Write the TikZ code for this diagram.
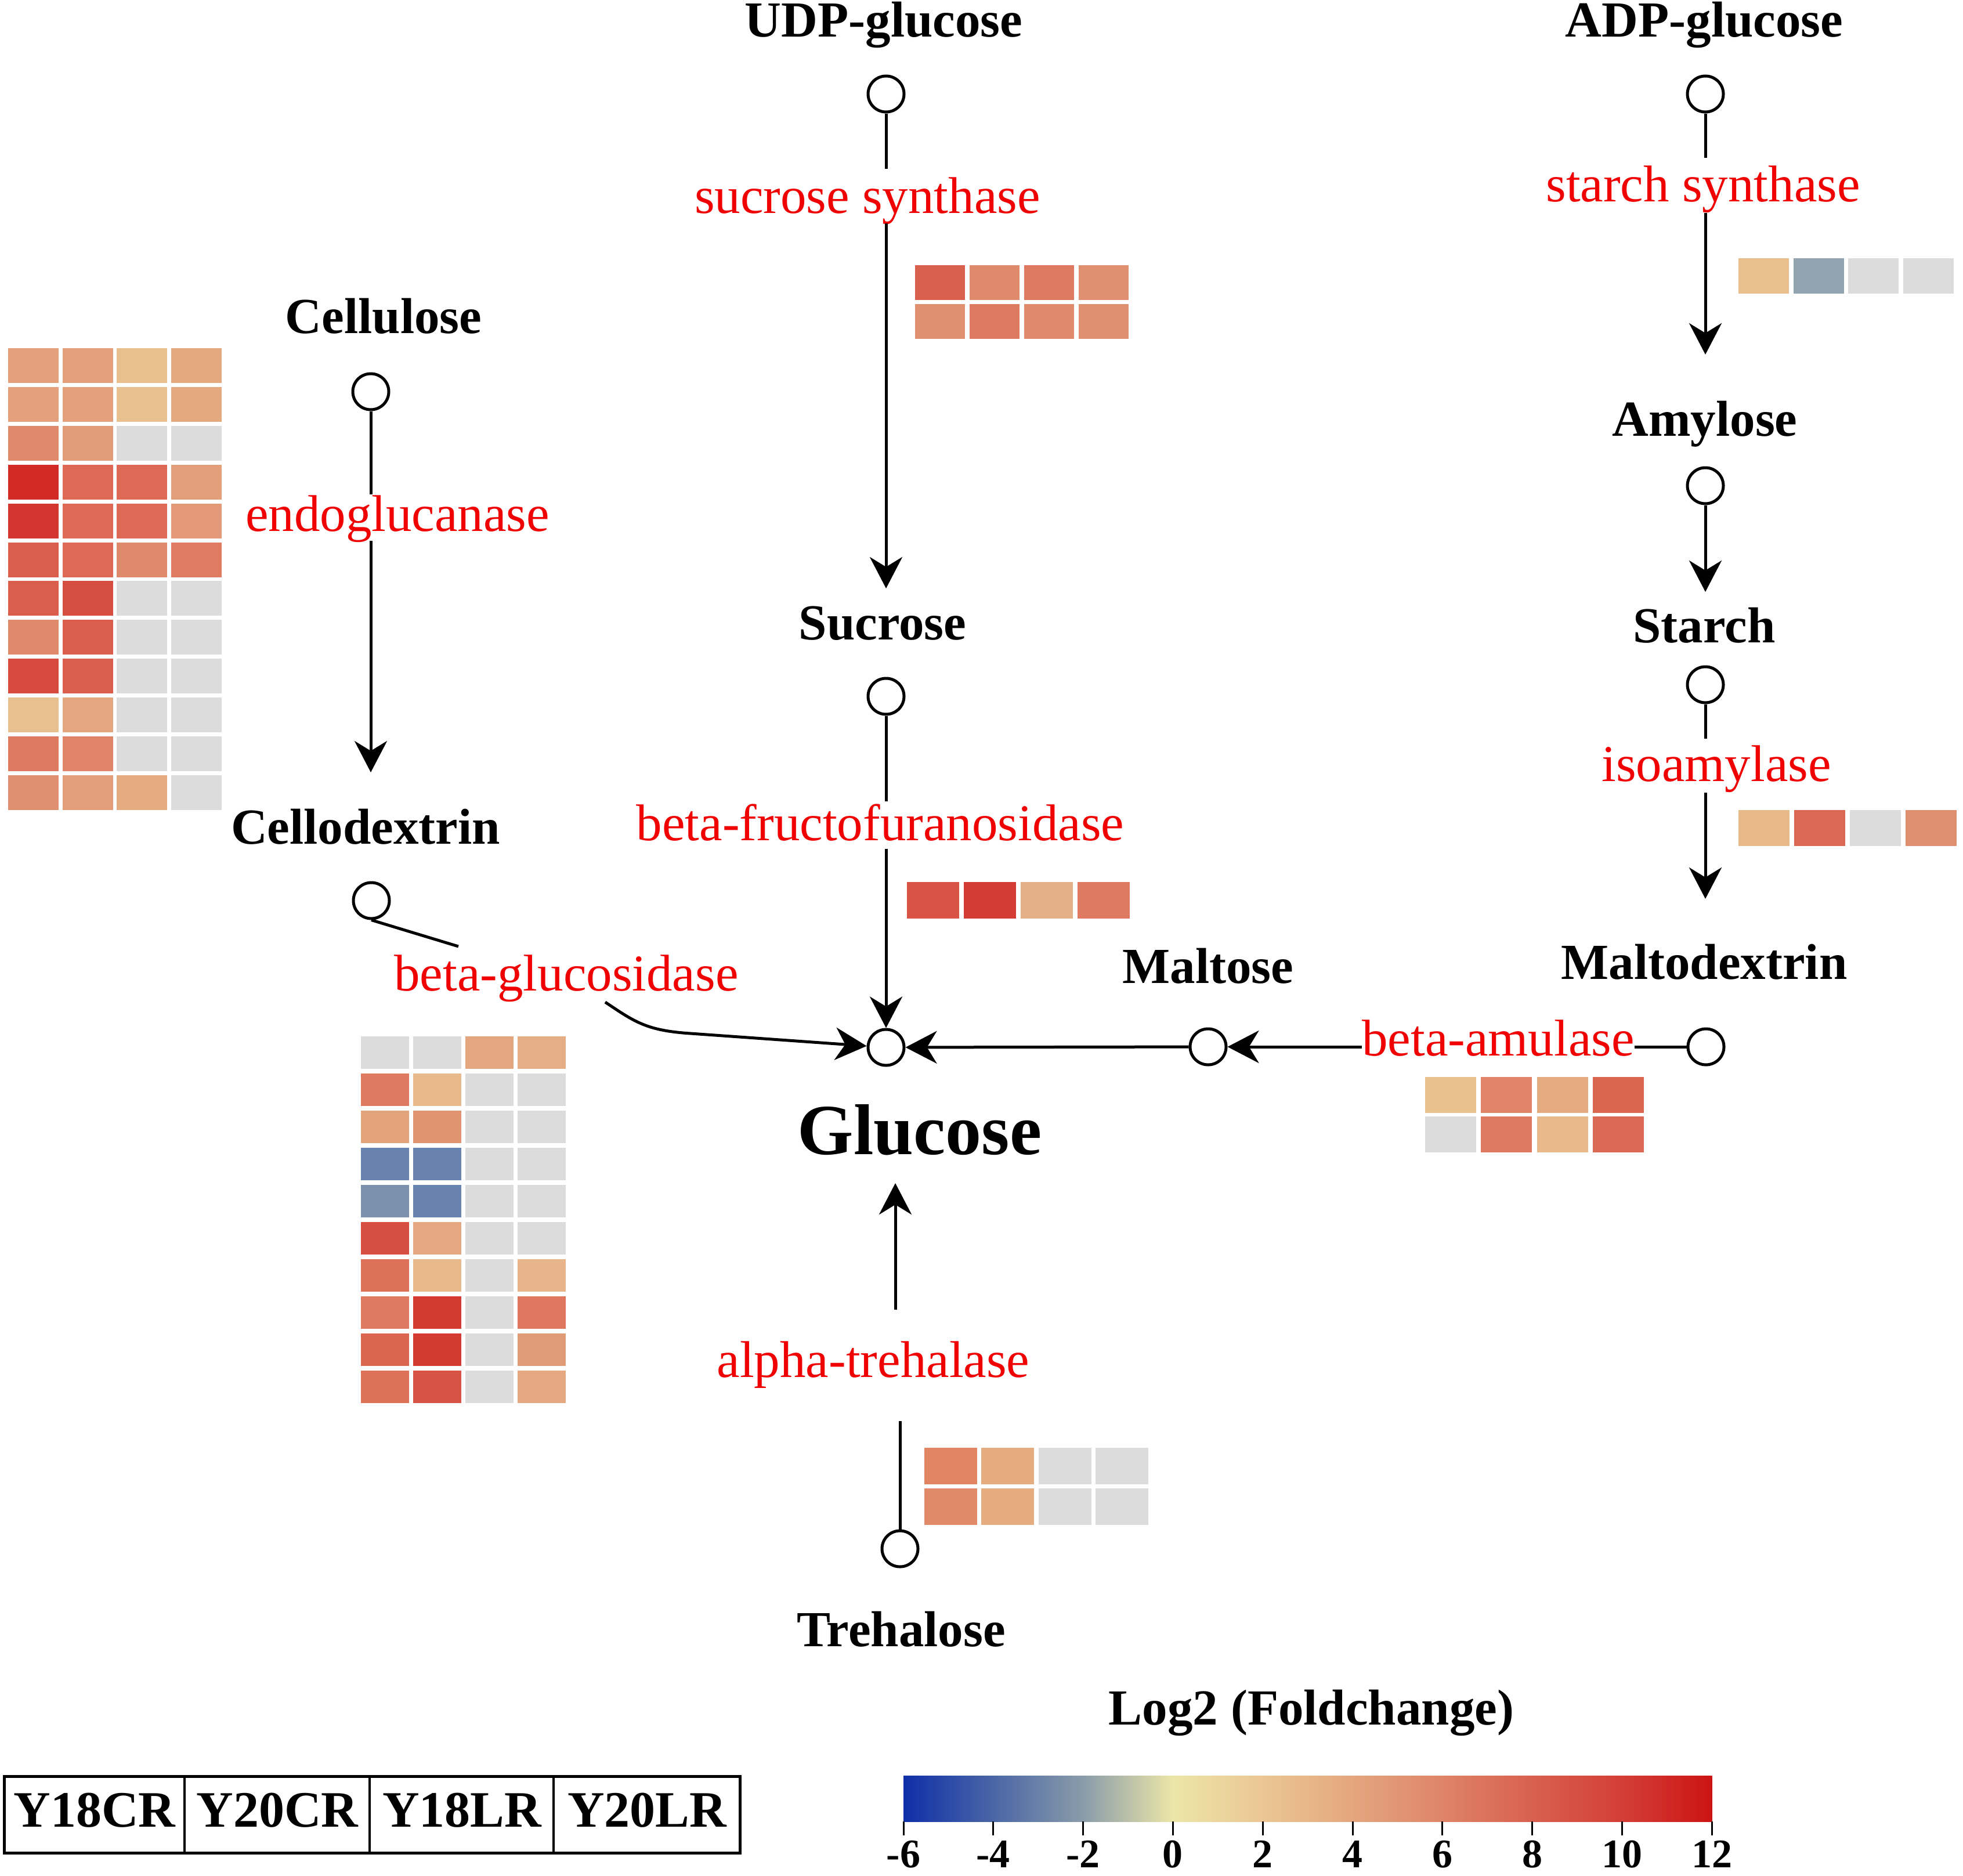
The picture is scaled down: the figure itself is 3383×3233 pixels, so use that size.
\documentclass[tikz,border=0pt]{standalone}
\usepackage{fontspec}
\usepackage{graphicx}
\setmainfont{Liberation Serif}
\usetikzlibrary{arrows.meta}
\definecolor{lbl}{HTML}{F00000}
\definecolor{cb0}{HTML}{0F2FA8}
\definecolor{cb1}{HTML}{4A66A6}
\definecolor{cb2}{HTML}{8A9CAA}
\definecolor{cb3}{HTML}{ECE6A8}
\definecolor{cb4}{HTML}{EBC694}
\definecolor{cb5}{HTML}{E4A67E}
\definecolor{cb6}{HTML}{DE8468}
\definecolor{cb7}{HTML}{D8604F}
\definecolor{cb8}{HTML}{D33E36}
\definecolor{cb9}{HTML}{CC1414}
\newcommand{\hmapdraw}[7]{%
  \foreach \rowlist [count=\r from 0] in {#7}{%
    \foreach \cc [count=\k from 0] in \rowlist{%
      \edef\tmpdef{\noexpand\definecolor{hmc}{HTML}{\cc}}\tmpdef
      \fill[hmc] ({#1+\k*#3},{#2+\r*#4}) rectangle ++(#5,#6);
    }}}
\begin{document}
\begin{tikzpicture}[x=1pt,y=-1pt,
  met/.style={circle,draw,line width=5pt,minimum size=62pt,inner sep=0pt,fill=white},
  lab/.style={anchor=base,inner sep=0pt,font=\bfseries\fontsize{87}{90}\selectfont},
  enz/.style={anchor=base,inner sep=0pt,text=lbl,font=\fontsize{89}{92}\selectfont},
  conn/.style={line width=5pt},
  arr/.style={line width=5pt,-{Stealth[length=54pt,width=56pt,inset=17pt]}},
  cbtick/.style={line width=3pt},
  ticklab/.style={anchor=base,inner sep=0pt,font=\bfseries\fontsize{70}{72}\selectfont},
  legtxt/.style={anchor=base,inner sep=0pt,font=\bfseries\fontsize{88}{90}\selectfont}
]
\useasboundingbox[fill=white] (0,0) rectangle (3383,3233);

% heatmaps
\hmapdraw{14}{600}{93.6}{66.9}{87}{60}{%
 {E3A07B,E3A07A,E9BF8E,E5A97F},
 {E3A07B,E3A07A,E9C08F,E5A97F},
 {E08A6C,E39C78,DCDCDC,DCDCDC},
 {D22B26,DE6A55,DE6A55,E39F79},
 {D3362E,DE6A55,DE6A55,E39877},
 {DB5D4B,DE6A55,E08A6C,DE7B61},
 {DB5D4B,D64E3F,DCDCDC,DCDCDC},
 {E08A6C,DB5D4B,DCDCDC,DCDCDC},
 {D74B3E,DB5D4B,DCDCDC,DCDCDC},
 {E8C08F,E3A67E,DCDCDC,DCDCDC},
 {DE7A60,E08468,DCDCDC,DCDCDC},
 {E08F70,E39D79,E5AB80,DCDCDC}}
\hmapdraw{622}{1786}{90}{64}{83}{56}{%
 {DCDCDC,DCDCDC,E3A67E,E5AE84},
 {DE7A60,E8B98A,DCDCDC,DCDCDC},
 {E3A47C,E09470,DCDCDC,DCDCDC},
 {6783AE,6783AE,DCDCDC,DCDCDC},
 {7A90AC,6783AE,DCDCDC,DCDCDC},
 {D64E3F,E5A880,DCDCDC,DCDCDC},
 {DE7259,E8B98A,DCDCDC,E8B48A},
 {DE7A60,D33A30,DCDCDC,DE775E},
 {DB6650,D33A30,DCDCDC,E09C76},
 {DE7259,D75445,DCDCDC,E5A880}}
\hmapdraw{1577}{457}{94}{67}{86}{60}{%
 {D9604C,E08A6C,DE7A60,E08F70},
 {E08F70,DE7A60,E08A6C,E08F70}}
\hmapdraw{2996}{445}{94.7}{66}{87}{61}{%
 {E8BF8D,90A3AE,DCDCDC,DCDCDC}}
\hmapdraw{2996}{1396}{96}{66}{88}{62}{%
 {E8BA8A,DB6A55,DCDCDC,E08F70}}
\hmapdraw{1563}{1520}{98}{66}{90}{63}{%
 {D95445,D33C32,E5B085,DE7A60}}
\hmapdraw{1593}{2495}{98.3}{70}{91}{63}{%
 {E08462,E5AC80,DCDCDC,DCDCDC},
 {E08A6A,E5AC80,DCDCDC,DCDCDC}}
\hmapdraw{2456}{1856}{96.3}{68}{88}{62}{%
 {E8C18F,E08468,E5AB80,DB6650},
 {DCDCDC,DE7A60,E8B98A,DB6A55}}

% metabolites (circles)
\node[met] (udp) at (1527,162) {};
\node[met] (adp) at (2939,162) {};
\node[met] (cellulose) at (639,675) {};
\node[met] (amylose) at (2939,837) {};
\node[met] (sucrose) at (1527,1200) {};
\node[met] (starch) at (2939,1180) {};
\node[met] (cellodextrin) at (640,1552) {};
\node[met] (glucose) at (1527,1805) {};
\node[met] (maltose) at (2082,1804) {};
\node[met] (maltodextrin) at (2940,1804) {};
\node[met] (trehalose) at (1551,2669) {};

% metabolite labels
\node[lab] (tUDP) at (1523,64) {UDP-glucose};
\node[lab] (tADP) at (2937,64) {ADP-glucose};
\node[lab] (tCellulose) at (661,574) {Cellulose};
\node[lab] (tAmylose) at (2938,751) {Amylose};
\node[lab] (tSucrose) at (1521,1102) {Sucrose};
\node[lab] (tStarch) at (2937,1107) {Starch};
\node[lab] (tCellodextrin) at (630,1454) {Cellodextrin};
\node[lab] (tMaltose) at (2082,1694) {Maltose};
\node[lab] (tMaltodextrin) at (2937,1687) {Maltodextrin};
\node[lab,font=\bfseries\fontsize{124}{130}\selectfont] (tGlucose) at (1585,1989) {Glucose};
\node[lab] (tTrehalose) at (1553,2837) {Trehalose};

% enzymes
\node[enz] (eSS) at (1495,367) {sucrose synthase};
\node[enz] (eStS) at (2935,347) {starch synthase};
\node[enz] (eEndo) at (685,915) {endoglucanase};
\node[enz] (eBFF) at (1517,1448) {beta-fructofuranosidase};
\node[enz] (eIso) at (2958,1346) {isoamylase};
\node[enz] (eBG) at (976,1707) {beta-glucosidase};
\node[enz] (eBA) at (2582,1819) {beta-amulase};
\node[enz] (eAT) at (1505,2373) {alpha-trehalase};

% coordinates for free ends
\coordinate (udpA) at (1527,291);
\coordinate (udpB) at (1527,385);
\coordinate (udpC) at (1527,1014);
\coordinate (adpA) at (2939,272);
\coordinate (adpB) at (2939,367);
\coordinate (adpC) at (2939,611);
\coordinate (celA) at (639,852);
\coordinate (celB) at (639,932);
\coordinate (celC) at (639,1331);
\coordinate (amyA) at (2939,1020);
\coordinate (staA) at (2939,1273);
\coordinate (staB) at (2939,1366);
\coordinate (staC) at (2939,1549);
\coordinate (sucA) at (1527,1381);
\coordinate (sucB) at (1527,1463);
\coordinate (bgA) at (790,1631);
\coordinate (bgB) at (1043,1727);
\coordinate (treA) at (1551,2449);
\coordinate (treB) at (1543,2257);
\coordinate (treC) at (1543,2039);

% connectors
\draw[conn] (udp) -- (udpA);
\draw[arr] (udpB) -- (udpC);
\draw[conn] (adp) -- (adpA);
\draw[arr] (adpB) -- (adpC);
\draw[conn] (cellulose) -- (celA);
\draw[arr] (celB) -- (celC);
\draw[arr] (amylose) -- (amyA);
\draw[conn] (starch) -- (staA);
\draw[arr] (staB) -- (staC);
\draw[conn] (sucrose) -- (sucA);
\draw[arr] (sucB) -- (glucose);
\draw[conn] (cellodextrin.south) -- (bgA);
\draw[arr] (bgB) .. controls (1095,1762) and (1115,1776) .. (1190,1781) -- (glucose);
\draw[conn] (maltodextrin) -- (maltodextrin -| eBA.east);
\draw[arr] (maltodextrin -| eBA.west) -- (maltose);
\draw[arr] (maltose) -- (glucose);
\draw[conn] (trehalose) -- (treA);
\draw[arr] (treB) -- (treC);

% legend box
\draw[line width=5pt] (7,3061) rectangle (1275,3193);
\draw[line width=3.5pt] (318,3061) -- (318,3193);
\draw[line width=3.5pt] (637,3061) -- (637,3193);
\draw[line width=3.5pt] (954,3061) -- (954,3193);
\node[legtxt] (l1) at (163,3148) {Y18CR};
\node[legtxt] (l2) at (478,3148) {Y20CR};
\node[legtxt] (l3) at (796,3148) {Y18LR};
\node[legtxt] (l4) at (1115,3148) {Y20LR};

% colour bar
\node[lab] (tLog) at (2260,2972) {Log2 (Foldchange)};
\foreach \i [evaluate=\i as \j using int(\i+1)] in {0,...,8}{
  \shade[left color=cb\i, right color=cb\j] ({1557+\i*154.8},3060) rectangle ({1557+(\i+1)*154.8+0.5},3139);
}
\foreach \i/\v in {0/-6,1/-4,2/-2,3/0,4/2,5/4,6/6,7/8,8/10,9/12}{
  \draw[cbtick] ({1557+\i*154.8},3139) -- ({1557+\i*154.8},3163);
  \node[ticklab] (tk\i) at ({1557+\i*154.8},3218) {\v};
}
\end{tikzpicture}
\end{document}
